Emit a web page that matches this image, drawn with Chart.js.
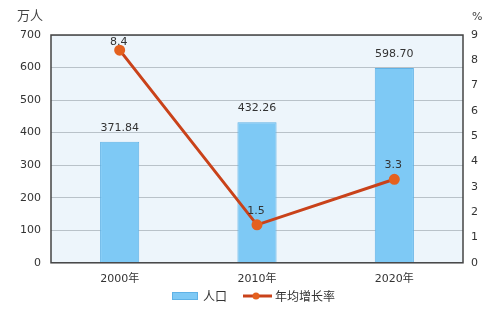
<!DOCTYPE html>
<html><head><meta charset="utf-8">
<script src="https://cdn.jsdelivr.net/npm/chart.js@4/dist/chart.umd.min.js"></script>
<style>html,body{margin:0;padding:0;background:#fff;}#wrap{width:500px;height:309px;position:relative;}</style>
</head><body><div id="wrap"><canvas id="c" width="500" height="309"></canvas></div>
<script>
const categories = ['2000年', '2010年', '2020年'];
const population = [371.84, 432.26, 598.70];
const populationLabels = ['371.84', '432.26', '598.70'];
const growthRate = [8.4, 1.5, 3.3];
const growthLabels = ['8.4', '1.5', '3.3'];
const seriesNames = ['人口', '年均增长率'];
const leftUnit = '万人';
const rightUnit = '%';

const FONT = '"DejaVu Sans", "Noto Sans CJK SC", sans-serif';
const BAR_FILL = '#7ec9f5';
const BAR_BORDER = '#5fb2e6';
const LINE_COLOR = '#c9421a';
const POINT_COLOR = '#e4611f';

const plotBg = {
  id: 'plotBg',
  beforeDraw(chart) {
    const {ctx, chartArea: a} = chart;
    ctx.save();
    ctx.fillStyle = '#edf5fb';
    ctx.fillRect(a.left, a.top, a.right - a.left, a.bottom - a.top);
    ctx.restore();
  },
  afterDatasetsDraw(chart) {
    const {ctx, chartArea: a} = chart;
    ctx.save();
    ctx.strokeStyle = '#444';
    ctx.lineWidth = 1.5;
    ctx.strokeRect(a.left, a.top, a.right - a.left, a.bottom - a.top);
    ctx.restore();
  }
};

const labelsPlugin = {
  id: 'valueLabels',
  afterDatasetsDraw(chart) {
    const {ctx, chartArea: a} = chart;
    ctx.save();
    ctx.font = '11px ' + FONT;
    ctx.fillStyle = '#333';
    ctx.textAlign = 'center';
    ctx.textBaseline = 'middle';
    chart.getDatasetMeta(1).data.forEach((el, i) => {
      ctx.fillText(populationLabels[i], el.x, el.y - 14);
    });
    chart.getDatasetMeta(0).data.forEach((el, i) => {
      let y = el.y - 14;
      if (y < a.top + 7) y = a.top + 7;
      ctx.fillText(growthLabels[i], el.x - 1, y);
    });
    // unit titles
    ctx.font = '13px "Noto Sans CJK SC", sans-serif';
    ctx.fillStyle = '#444';
    ctx.textAlign = 'left';
    ctx.fillText(leftUnit, 17, 15);
    ctx.font = '11px ' + FONT;
    ctx.fillText(rightUnit, 472, 17);
    // legend
    const ly = 296;
    ctx.fillStyle = BAR_FILL;
    ctx.fillRect(172, ly - 4, 26, 8);
    ctx.strokeStyle = BAR_BORDER;
    ctx.lineWidth = 1;
    ctx.strokeRect(172.5, ly - 3.5, 25, 7);
    ctx.font = '12px "Noto Sans CJK SC", sans-serif';
    ctx.fillStyle = '#333';
    ctx.fillText(seriesNames[0], 203, ly);
    ctx.strokeStyle = LINE_COLOR;
    ctx.lineWidth = 3;
    ctx.beginPath();
    ctx.moveTo(243, ly); ctx.lineTo(272, ly); ctx.stroke();
    ctx.fillStyle = POINT_COLOR;
    ctx.beginPath(); ctx.arc(256, ly, 3.5, 0, Math.PI * 2); ctx.fill();
    ctx.fillStyle = '#333';
    ctx.fillText(seriesNames[1], 275, ly);
    ctx.restore();
  }
};

new Chart(document.getElementById('c'), {
  data: {
    labels: categories,
    datasets: [
      {
        type: 'line', label: seriesNames[1], data: growthRate, yAxisID: 'y1',
        borderColor: LINE_COLOR, borderWidth: 3, backgroundColor: POINT_COLOR,
        pointBackgroundColor: POINT_COLOR, pointBorderColor: POINT_COLOR,
        pointRadius: 4, tension: 0, order: 0
      },
      {
        type: 'bar', label: seriesNames[0], data: population, yAxisID: 'y',
        backgroundColor: BAR_FILL, borderColor: BAR_BORDER, borderWidth: 1,
        barPercentage: 0.285, categoryPercentage: 1, order: 1
      }
    ]
  },
  options: {
    responsive: false, animation: false,
    layout: {padding: {left: 4, right: 4, top: 35, bottom: 13}},
    plugins: {legend: {display: false}, tooltip: {enabled: false}},
    scales: {
      x: {
        grid: {display: false, drawTicks: false},
        border: {display: false},
        ticks: {color: '#333', font: {family: FONT, size: 11}, padding: 10}
      },
      y: {
        position: 'left', min: 0, max: 700,
        ticks: {stepSize: 100, color: '#333', font: {family: FONT, size: 11}, padding: 10},
        grid: {color: '#b9c2c9', lineWidth: 1, drawTicks: false},
        border: {display: false},
        afterFit(s) { s.width = 47; }
      },
      y1: {
        position: 'right', min: 0, max: 9,
        ticks: {stepSize: 1, color: '#333', font: {family: FONT, size: 11}, padding: 8},
        grid: {display: false, drawTicks: false},
        border: {display: false},
        afterFit(s) { s.width = 33; }
      }
    }
  },
  plugins: [plotBg, labelsPlugin]
});
</script></body></html>
